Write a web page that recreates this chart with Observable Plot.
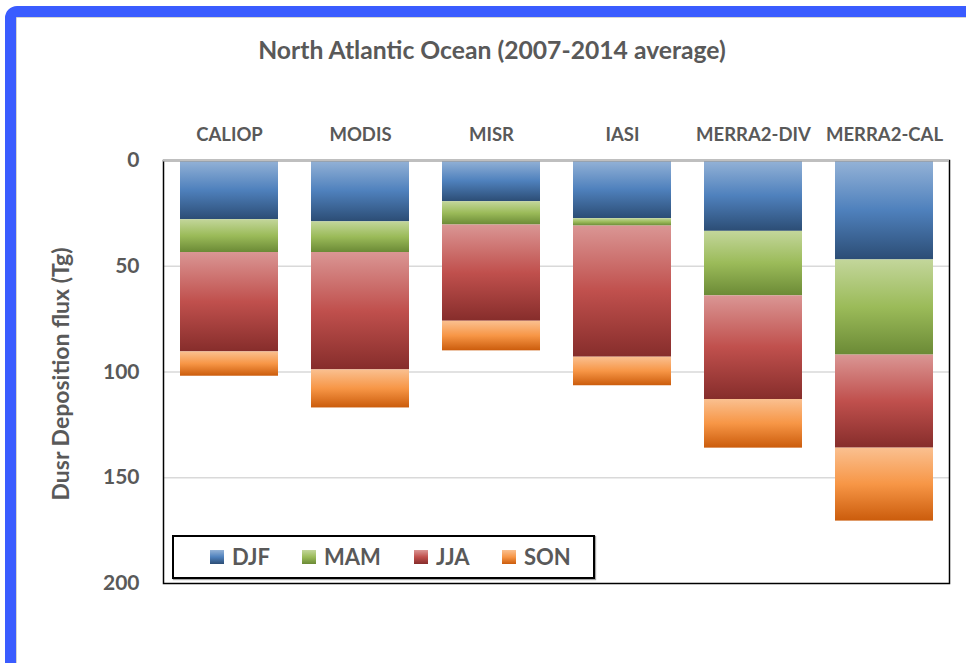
<!DOCTYPE html>
<html>
<head>
<meta charset="utf-8">
<script src="https://cdn.jsdelivr.net/npm/d3@7"></script>
<script src="https://cdn.jsdelivr.net/npm/@observablehq/plot@0.6"></script>
<style>
  html, body { margin: 0; padding: 0; background: white; }
  #wrap { position: relative; width: 966px; height: 663px; overflow: hidden; background: white; font-family: Lato, "Open Sans", sans-serif; }
  #chart { position: absolute; left: 0; top: 0; }
  #border { position: absolute; left: 5px; top: 6px; width: 1000px; height: 700px; box-sizing: border-box;
    border: 11px solid #3A5CFF; border-radius: 12px; box-shadow: inset 0 0 0 1px #d4d4d4; pointer-events: none; }
  #title { position: absolute; left: 0; width: 984px; top: 35px; text-align: center; font-weight: 700; font-size: 24.7px; color: #595959; line-height: 30px; }
  #legend { position: absolute; left: 172px; top: 535px; width: 423px; height: 44px; box-sizing: border-box;
    border: 2.5px solid #000; box-shadow: 1px 1px 1px rgba(0,0,0,0.35); background: white; }
  .item { position: absolute; top: 0; height: 39px; display: flex; align-items: center; font-weight: 700; font-size: 22px; color: #595959; }
  .sw { width: 14px; height: 14px; margin-right: 8px; }
</style>
</head>
<body>
<div id="wrap">
  <svg width="0" height="0" style="position:absolute">
    <defs id="defs"></defs>
  </svg>
  <div id="chart"></div>
  <div id="title"></div>
  <div id="legend"></div>
  <div id="border"></div>
</div>
<script>
const titleText = "North Atlantic Ocean (2007-2014 average)";
const yLabel = "Dusr Deposition flux (Tg)";
const categories = ["CALIOP", "MODIS", "MISR", "IASI", "MERRA2-DIV", "MERRA2-CAL"];
const seasons = ["DJF", "MAM", "JJA", "SON"];
const djf = [28, 29, 19.5, 27.5, 33.5, 47];
const mam = [15.5, 14.5, 11, 3.5, 30.5, 45];
const jja = [47, 55.5, 45.5, 62, 49, 44];
const son = [11.5, 18, 14, 13.5, 23, 34.5];
const yTicks = [0, 50, 100, 150, 200];
const gridTicks = [50, 100, 150];
// gradient stops (top, middle, bottom) per season
const gradStops = {
  DJF: ["#95B3D7", "#4F81BD", "#2C4D75"],
  MAM: ["#C3D69B", "#9BBB59", "#6B8A36"],
  JJA: ["#DA9694", "#C0504D", "#862D2B"],
  SON: ["#FAC090", "#F79646", "#CB5C0C"]
};

const seriesValues = [djf, mam, jja, son];
const rows = [];
categories.forEach((c, i) => {
  seasons.forEach((s, j) => rows.push({category: c, season: s, value: seriesValues[j][i]}));
});

// gradients
const defs = d3.select("#defs");
seasons.forEach(s => {
  const g = defs.append("linearGradient").attr("id", "grad-" + s)
    .attr("x1", 0).attr("y1", 0).attr("x2", 0).attr("y2", 1);
  const st = gradStops[s];
  g.append("stop").attr("offset", "0%").attr("stop-color", st[0]);
  g.append("stop").attr("offset", "50%").attr("stop-color", st[1]);
  g.append("stop").attr("offset", "100%").attr("stop-color", st[2]);
});

const textColor = "#595959";

const chart = Plot.plot({
  width: 966,
  height: 663,
  marginTop: 160,
  marginBottom: 80,
  marginLeft: 163,
  marginRight: 17,
  style: {background: "transparent", fontFamily: "Lato, 'Open Sans', sans-serif"},
  x: {domain: categories, paddingInner: 0.255, paddingOuter: 0.1275, label: null},
  y: {domain: [0, 200], reverse: true, label: null},
  color: {domain: seasons, range: seasons.map(s => `url(#grad-${s})`)},
  marks: [
    Plot.gridY(gridTicks, {stroke: "#d9d9d9", strokeOpacity: 1, strokeWidth: 1.5}),
    Plot.barY(rows, Plot.stackY({x: "category", y: "value", fill: "season", order: null})),
    Plot.frame({stroke: "#000", strokeWidth: 1.5}),
    Plot.ruleY([0], {stroke: "#bfbfbf", strokeWidth: 2}),
    Plot.axisY(yTicks, {tickSize: 0, tickPadding: 24, fontSize: 21, fontWeight: 700, fill: textColor, label: null}),
    Plot.axisX({anchor: "top", tickSize: 0, tickPadding: 20, fontSize: 18.5, fontWeight: 700, fill: textColor, label: null}),
    Plot.text([yLabel], {frameAnchor: "left", textAnchor: "middle", dx: -102, dy: 2, rotate: -90, fontSize: 23, fontWeight: 700, fill: textColor})
  ]
});
document.getElementById("chart").appendChild(chart);

document.getElementById("title").textContent = titleText;

// legend
const legendX = [36, 128, 240, 328];
const legend = d3.select("#legend");
seasons.forEach((s, i) => {
  const it = legend.append("div").attr("class", "item").style("left", legendX[i] + "px");
  const st = gradStops[s];
  it.append("div").attr("class", "sw").style("background", `linear-gradient(${st[0]}, ${st[1]} 50%, ${st[2]})`);
  it.append("span").text(s);
});
</script>
</body>
</html>
